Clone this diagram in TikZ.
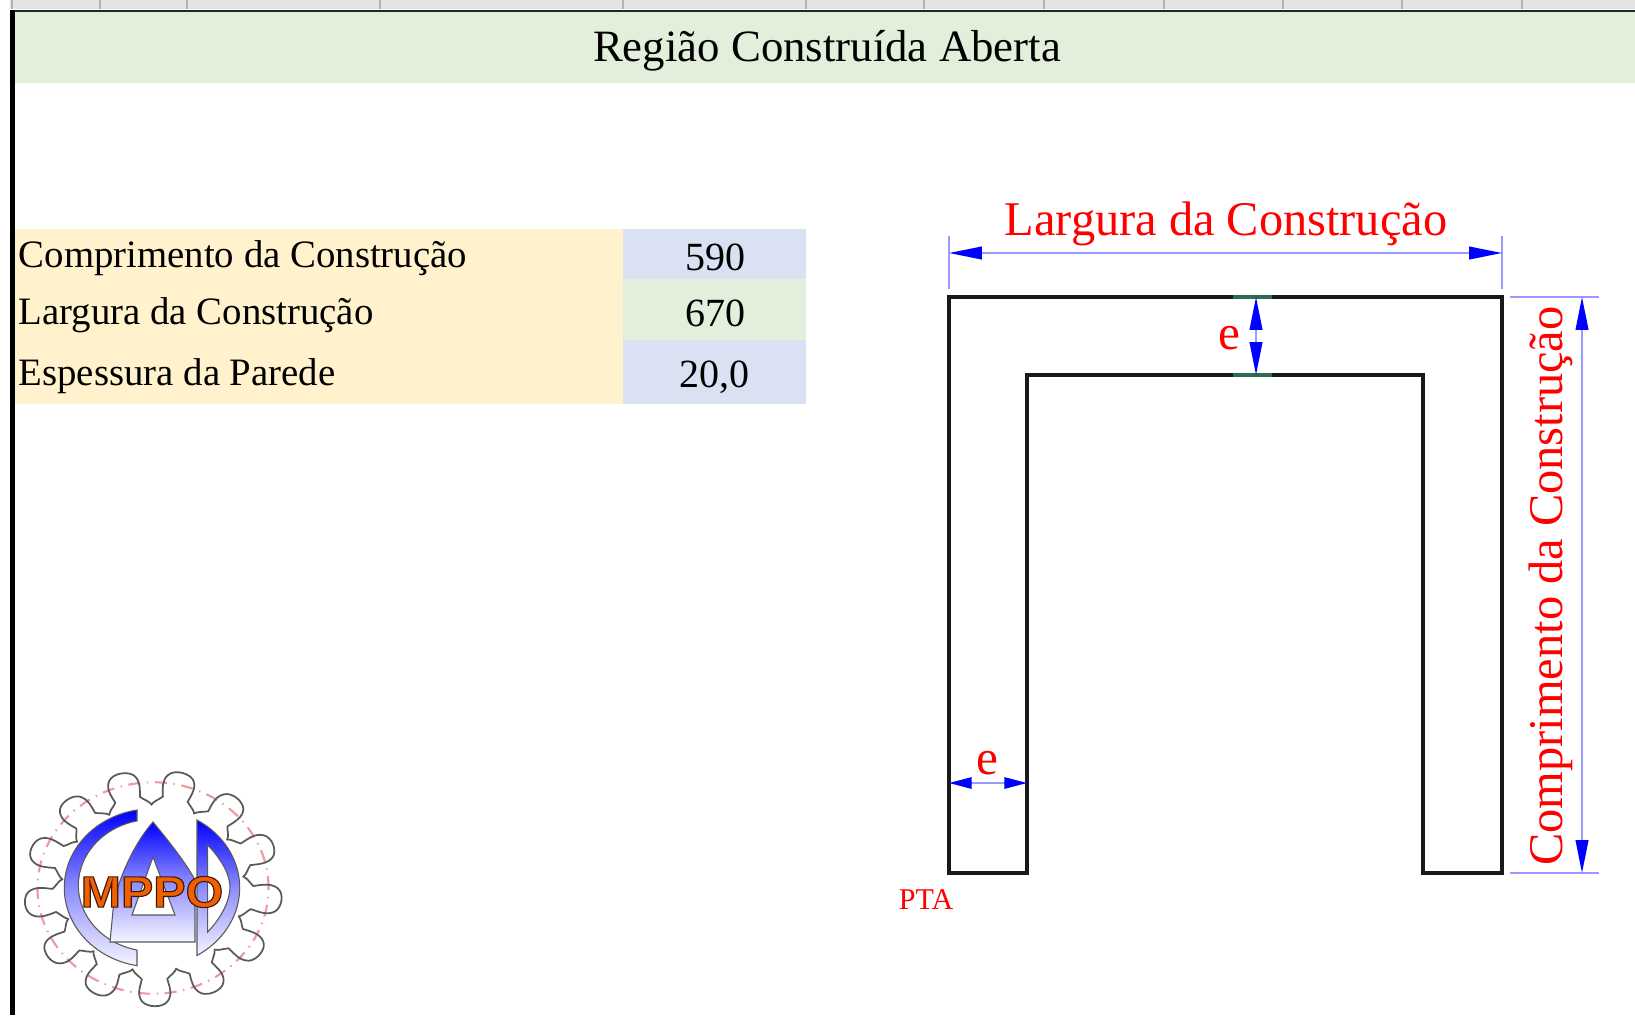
\documentclass[tikz,border=0pt]{standalone}
\usepackage{fontspec}
\setmainfont{Liberation Serif}
\newfontfamily\logofont{Liberation Sans}
\usetikzlibrary{arrows.meta}
\definecolor{hdrgray}{HTML}{E4E4E4}
\definecolor{tickgray}{HTML}{B4B4B4}
\definecolor{bandgreen}{HTML}{E2EFDA}
\definecolor{celly}{HTML}{FFF2CC}
\definecolor{cellb}{HTML}{D9E1F2}
\definecolor{dimlight}{HTML}{9A9AFF}
\definecolor{seggreen}{HTML}{2E6B55}
\definecolor{gearpink}{HTML}{EE9AA0}
\newcommand{\fs}[1]{\fontsize{#1}{#1}\selectfont}
\tikzset{
  lbl/.style={inner sep=0pt,font=\fs{29.1}},
  num/.style={inner sep=0pt,font=\fs{30}},
  redtxt/.style={inner sep=0pt,text=red,font=\fs{36.3}},
  dimline/.style={draw=dimlight,line width=1.4pt},
  dimarrow/.style={dimline,{Triangle[length=24.7pt,width=9.5pt,color=blue]}-{Triangle[length=24.7pt,width=9.5pt,color=blue]}},
  dimarrowsmall/.style={dimline,{Triangle[length=17pt,width=8.5pt,color=blue]}-{Triangle[length=17pt,width=8.5pt,color=blue]}},
  wall/.style={draw=black!90,line width=2.4pt,line join=miter},
  logoshade/.style={draw=black!65,line width=.8pt,top color=blue,bottom color=blue!4,middle color=blue!45},
  geartooth/.style={draw=black!65,line width=1.3pt},
}
\begin{document}
\begin{tikzpicture}[x=.75pt,y=-.75pt]
\useasboundingbox (0,0) rectangle (1635,1015);
\fill[white] (0,0) rectangle (1635,1015);
% sheet header strip
\fill[hdrgray] (10,0) rectangle (1635,9);
\foreach \t in {12,100,187,380,623,806,924,1044,1164,1283,1402,1522}
  \draw[tickgray,line width=.9pt] (\t,0) -- (\t,9);
\fill[bandgreen] (15,12) rectangle (1635,83);
\fill[black!85] (10,10) rectangle (1635,12);
\fill[black] (10,10) rectangle (15,1015);
\node[inner sep=0pt,font=\fs{33.6}] (title) at (827,51) {Região Construída Aberta};
% table
\fill[celly] (15,229) rectangle (623,404);
\fill[cellb] (623,229) rectangle (806,279);
\fill[bandgreen] (623,279) rectangle (806,340);
\fill[cellb] (623,340) rectangle (806,404);
\node[lbl,anchor=west] (l1) at (18.5,258.5) {Comprimento da Construção};
\node[lbl,anchor=west] (l2) at (18.5,315) {Largura da Construção};
\node[lbl,anchor=west] (l3) at (18.5,376.5) {Espessura da Parede};
\node[num] (v1) at (715,257) {590};
\node[num] (v2) at (715,313) {670};
\node[num] (v3) at (714,377) {20,0};
% plan
\draw[wall] (949,873) -- (949,297) -- (1502,297) -- (1502,873) -- (1423,873) -- (1423,375) -- (1027,375) -- (1027,873) -- cycle;
\draw[seggreen,line width=2.4pt] (1233,297) -- (1272,297);
\draw[seggreen,line width=2.4pt] (1233,375) -- (1272,375);
% dimension references
\coordinate (wl) at (949,253);
\coordinate (wr) at (1502,253);
\coordinate (ct) at (1582,297);
\coordinate (cb) at (1582,873);
\coordinate (et) at (1256,297);
\coordinate (eb) at (1256,375);
\coordinate (el) at (949,783);
\coordinate (er) at (1027,783);
\draw[dimline] (949,236) -- (949,289);
\draw[dimline] (1502,236) -- (1502,289);
\draw[dimline] (1510,297) -- (1599,297);
\draw[dimline] (1510,873) -- (1599,873);
\draw[dimarrow] (wl) -- (wr);
\draw[dimarrow] (ct) -- (cb);
\draw[dimarrow] (et) -- (eb);
\draw[dimarrowsmall] (el) -- (er);
\node[redtxt] (tw) at (1226,224) {Largura da Construção};
\node[redtxt,rotate=90] (tc) at (1551,586) {Comprimento da Construção};
\node[redtxt,font=\fs{37}] (te1) at (1229,338) {e};
\node[redtxt,font=\fs{37}] (te2) at (987,763) {e};
\node[inner sep=0pt,text=red,font=\fs{22.6}] (pta) at (926,900) {PTA};
% logo
\begin{scope}[shift={(152,885)},x=.75pt,y=.75pt]
  \begin{scope}[shift={(1,-3)},xscale=1.06,yscale=.97]
  \draw[gearpink,line width=1.6pt,dash pattern=on 9pt off 5pt on 1pt off 5pt] (0,0) circle [radius=109];
  \foreach \a in {0,...,12}{
    \begin{scope}[rotate={-6+\a*27.69}]
      \draw[geartooth] (83,-21) .. controls (88,-19) and (90,-15) .. (94,-12)
        .. controls (102,-14) and (110,-17) .. (117,-12)
        .. controls (123,-7) and (124,7) .. (117,12)
        .. controls (110,17) and (102,14) .. (94,12)
        .. controls (90,15) and (88,19) .. (83,21);
    \end{scope}
  }
  \end{scope}
  \path[logoshade] (-15,75) arc [start angle=100,end angle=260,x radius=88,y radius=79]
     -- (-15,-65) arc [start angle=258,end angle=102,x radius=74,y radius=66] -- cycle;
  \path[logoshade,even odd rule] (45,65) arc [start angle=59,end angle=-59,x radius=88,y radius=79] -- cycle
     (55.7,40) .. controls (70,25) and (78,10) .. (78,-2) .. controls (78,-15) and (70,-32) .. (55.7,-47) -- cycle;
  \path[logoshade,even odd rule] (1,63) .. controls (20,40) and (35,20) .. (43,5) -- (43,-57) -- (-42,-57)
     -- (-38,-15) .. controls (-30,15) and (-15,45) .. (1,63) -- cycle
     (1,28) -- (-20,-30) -- (23,-30) -- cycle;
  \node[inner sep=0pt,xscale=1.1,text={rgb,255:red,240;green,95;blue,0},font=\logofont\bfseries\fs{33}] (mppo) at (0,-7)
    {\special{pdf:code 2 Tr .8 w .25 .1 .05 RG}MPPO\special{pdf:code 0 Tr}};
\end{scope}
\end{tikzpicture}
\end{document}
